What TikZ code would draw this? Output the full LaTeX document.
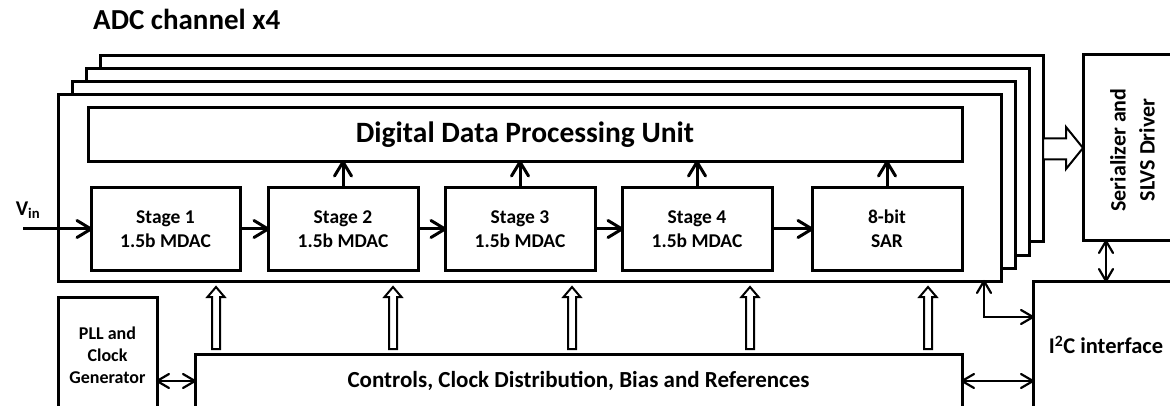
\documentclass[tikz,border=0pt]{standalone}
\usepackage{fontspec}
\setmainfont{Carlito}
\usetikzlibrary{calc}
\begin{document}
\begin{tikzpicture}[x=1pt,y=-1pt,
  blk/.style={draw,line width=3pt,fill=white,inner sep=0pt,outer sep=0pt,align=center,font=\bfseries},
  thickline/.style={line width=3pt},
  thinline/.style={line width=2pt},
  vhead/.pic={\draw[line width=3pt,line cap=round,line join=round] (-14,-8.5) -- (0,0) -- (-14,8.5);},
  thead/.pic={\draw[line width=2.2pt,line cap=round,line join=round] (-12,-7) -- (0,0) -- (-12,7);},
  hollow/.style={draw,line width=2pt,fill=white,line join=miter}
]
\useasboundingbox (0,0) rectangle (1170,406);
\clip (0,0) rectangle (1170,406);
% title
\node[anchor=base west,font=\bfseries\fontsize{29}{34}\selectfont,inner sep=0pt] (title) at (93,30) {ADC channel x4};
% stacked channel boxes
\node[blk,minimum width=943pt,minimum height=186pt] (b4) at (571.5,149) {};
\node[blk,minimum width=943pt,minimum height=186pt] (b3) at (557.5,162) {};
\node[blk,minimum width=943pt,minimum height=186pt] (b2) at (543.5,175) {};
\node[blk,minimum width=943pt,minimum height=186pt] (main) at (529.5,188) {};
% digital unit
\node[blk,minimum width=874pt,minimum height=54pt,font=\bfseries\fontsize{29.5}{34}\selectfont] (ddpu) at (525,135) {Digital Data Processing Unit};
% stages
\tikzset{stg/.style={blk,minimum width=150pt,minimum height=82pt,font=\bfseries\fontsize{19.5}{24}\selectfont}}
\node[stg,minimum width=149pt] (s1) at (165.5,229) {Stage 1\\1.5b MDAC};
\node[stg] (s2) at (343,229) {Stage 2\\1.5b MDAC};
\node[stg] (s3) at (520,229) {Stage 3\\1.5b MDAC};
\node[stg] (s4) at (697,229) {Stage 4\\1.5b MDAC};
\node[stg] (sar) at (887,229) {8-bit\\SAR};
% stage arrows
\coordinate (vinstart) at (23,229);
\node[font=\bfseries\fontsize{21}{24}\selectfont,inner sep=0pt] (vin) at (28,210) {V\textsubscript{in}};
\draw[thickline] (vinstart) -- (s1.west);
\pic at (s1.west) {vhead};
\draw[thickline] (s1.east) -- (s2.west);
\pic at (s2.west) {vhead};
\draw[thickline] (s2.east) -- (s3.west);
\pic at (s3.west) {vhead};
\draw[thickline] (s3.east) -- (s4.west);
\pic at (s4.west) {vhead};
\draw[thickline] (s4.east) -- (sar.west);
\pic at (sar.west) {vhead};
\foreach \s in {s2,s3,s4,sar} {
  \draw[thickline] (\s.north) -- (\s.north |- ddpu.south);
  \pic[rotate=90] at (\s.north |- ddpu.south) {vhead};
}
% bottom blocks
\node[blk,minimum width=767pt,minimum height=54pt,font=\bfseries\fontsize{23}{27}\selectfont] (ctrl) at (578.5,381) {Controls, Clock Distribution, Bias and References};
\node[blk,minimum width=99pt,minimum height=116pt,font=\bfseries\fontsize{18}{22}\selectfont] (pll) at (107.5,355) {PLL and\\Clock\\Generator};
\node[blk,minimum width=146pt,minimum height=128pt,font=\bfseries\fontsize{22.5}{26}\selectfont] (i2c) at (1106,345) {I\textsuperscript{2}C interface};
\node[blk,minimum width=99pt,minimum height=186pt] (ser) at (1132.5,148) {};
\node[font=\bfseries\fontsize{22}{29}\selectfont,rotate=90,align=center,inner sep=0pt] (sertxt) at (1132.5,150) {Serializer and\\SLVS Driver};
% hollow arrows up
\foreach \x in {216,393,572,750,928}
  \draw[hollow] (\x-4,349) -- (\x-4,297) -- (\x-8.5,297) -- (\x,287) -- (\x+8.5,297) -- (\x+4,297) -- (\x+4,349) -- cycle;
% hollow arrow right
\draw[hollow] (1043,138.5) -- (1066,138.5) -- (1066,127) -- (1083,148) -- (1066,169) -- (1066,159.5) -- (1043,159.5) -- cycle;
% thin double arrows
\draw[thinline,line width=2.5pt] (ctrl.west -| pll.east) -- (ctrl.west);
\pic[rotate=180] at (ctrl.west -| pll.east) {thead};
\pic at (ctrl.west) {thead};
\draw[thinline] (ctrl.east) -- (ctrl.east -| i2c.west);
\pic[rotate=180] at (ctrl.east) {thead};
\pic at (ctrl.east -| i2c.west) {thead};
\draw[thinline,line width=2.5pt] (i2c.north |- ser.south) -- (i2c.north);
\pic[rotate=90] at (i2c.north |- ser.south) {thead};
\pic[rotate=-90] at (i2c.north) {thead};
\coordinate (corner) at (984,317);
\draw[thinline] (main.south -| corner) -- (corner) -- (corner -| i2c.west);
\pic[rotate=90] at (main.south -| corner) {thead};
\pic at (corner -| i2c.west) {thead};
\end{tikzpicture}
\end{document}
